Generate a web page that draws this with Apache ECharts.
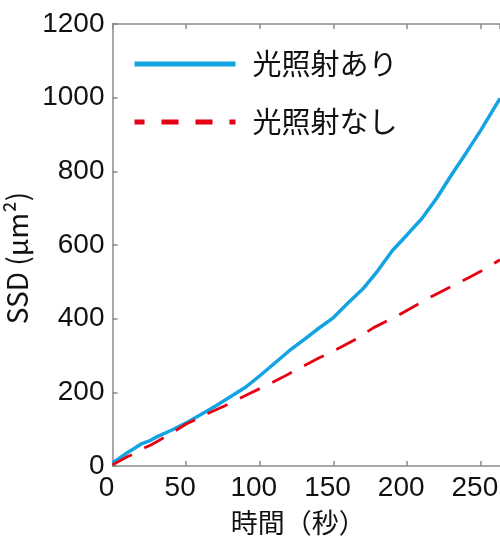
<!DOCTYPE html>
<html>
<head>
<meta charset="utf-8">
<script src="https://cdn.jsdelivr.net/npm/echarts@6/dist/echarts.min.js"></script>
<style>html,body{margin:0;padding:0;background:#fff}#c{width:500px;height:542px}</style>
</head>
<body>
<div id="c"></div>
<script>
// Series names
const seriesNames = ['光照射あり', '光照射なし'];
// 光照射あり (with light irradiation): [time s, SSD μm²]
const withLight = [
  [0, 8], [5, 22], [10, 36], [15, 48], [20, 61], [25, 68], [30, 79], [40, 97],
  [50, 117], [60, 140], [70, 163], [80, 188], [90, 213], [100, 245], [110, 279],
  [120, 313], [130, 343], [140, 374], [150, 403], [160, 443], [170, 481],
  [180, 530], [190, 585], [200, 628], [210, 672], [220, 727], [230, 790],
  [240, 850], [250, 912], [263, 998]
];
// 光照射なし (without light irradiation)
const withoutLight = [
  [0, 3], [10, 25], [15, 34], [20, 46], [26, 57], [30, 66], [40, 89], [50, 114],
  [60, 133], [65, 143], [76, 163], [91, 193], [102, 214], [116, 242], [127, 266],
  [140, 293], [152, 316], [166, 346], [177, 375], [193, 407], [217, 461],
  [242, 512], [252, 533], [263, 560]
];
// Axis settings
const xTicks = [0, 50, 100, 150, 200, 250];
const yTicks = [0, 200, 400, 600, 800, 1000, 1200];
const xName = '時間（秒）';
const yName = 'SSD (μm²)';

const axisGray = '#8a8a8a';
const blue = '#14a3e2';
const red = '#e60012';
const latin = 'Liberation Sans';
const cjk = 'Noto Sans CJK JP';

const legendText = {fontSize: 29, fontFamily: cjk, color: '#111', lineHeight: 30, padding: [0, 0, 0, 12]};

const chart = echarts.init(document.getElementById('c'), null, {renderer: 'canvas'});
chart.setOption({
  animation: false,
  backgroundColor: '#fff',
  grid: {left: 112.5, right: 0, top: 24, bottom: 76, containLabel: false, outerBoundsMode: 'none'},
  legend: [
    {
      data: [{name: seriesNames[0], lineStyle: {width: 5}, itemStyle: {opacity: 0}}],
      left: 132, top: 49, padding: 0, itemWidth: 101, itemHeight: 14,
      textStyle: legendText, selectedMode: false
    },
    {
      data: [{name: seriesNames[1], lineStyle: {width: 5, type: [17, 17], dashOffset: 7}, itemStyle: {opacity: 0}}],
      left: 132, top: 107, padding: 0, itemWidth: 101, itemHeight: 14,
      textStyle: legendText, selectedMode: false
    }
  ],
  xAxis: [
    {
      type: 'value', min: 0, max: 263, interval: 50,
      name: xName, nameLocation: 'middle', nameGap: 43,
      nameTextStyle: {fontSize: 27, fontFamily: cjk, color: '#111', padding: [0, 16, 0, 0]},
      axisLine: {show: true, lineStyle: {color: axisGray, width: 1.5}},
      axisTick: {show: true, inside: true, length: 5, lineStyle: {color: axisGray, width: 1.5}},
      axisLabel: {fontSize: 28, fontFamily: latin, color: '#111', margin: 8, showMaxLabel: false,
        formatter: v => (xTicks.indexOf(v) >= 0 ? '{n|' + v + '}{s| }' : ''),
        rich: {
          n: {fontSize: 28, fontFamily: latin, color: '#111'},
          s: {fontSize: 28, width: 12}
        }},
      splitLine: {show: false}
    },
    {
      type: 'value', position: 'top', min: 0, max: 263, interval: 50,
      axisLine: {show: true, lineStyle: {color: axisGray, width: 1.5}},
      axisTick: {show: true, inside: true, length: 5, lineStyle: {color: axisGray, width: 1.5}},
      axisLabel: {show: false},
      splitLine: {show: false}
    }
  ],
  yAxis: {
    type: 'value', min: 0, max: 1200, interval: 200,
    name: yName, nameLocation: 'middle', nameGap: 67, nameRotate: 90,
    nameTextStyle: {fontSize: 28, fontFamily: cjk, color: '#111', padding: [0, 26, 0, 0]},
    axisLine: {show: true, lineStyle: {color: axisGray, width: 1.5}},
    axisTick: {show: true, inside: true, length: 5, lineStyle: {color: axisGray, width: 1.5}},
    axisLabel: {
      fontSize: 28, fontFamily: latin, color: '#111', margin: 8,
      formatter: v => (yTicks.indexOf(v) < 0 ? '' : String(v))
    },
    splitLine: {show: false}
  },
  series: [
    {
      name: seriesNames[0], type: 'line', data: withLight, xAxisIndex: 0,
      symbol: 'none', showSymbol: false, clip: true,
      lineStyle: {color: blue, width: 3.5},
      itemStyle: {color: blue}
    },
    {
      name: seriesNames[1], type: 'line', data: withoutLight, xAxisIndex: 0,
      symbol: 'none', showSymbol: false, clip: true,
      lineStyle: {color: red, width: 2.8, type: [22, 14]},
      itemStyle: {color: red}
    }
  ]
});
</script>
</body>
</html>
